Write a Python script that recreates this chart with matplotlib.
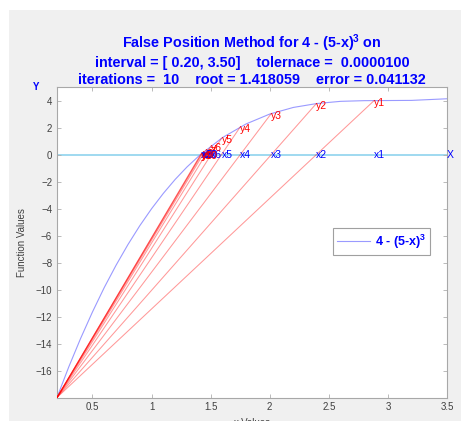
import matplotlib
matplotlib.use("Agg")
import matplotlib.pyplot as plt
from matplotlib.patches import Rectangle

# ---- data ----
curve_x = [0.2, 0.3, 0.4, 0.5, 0.6, 0.7, 0.8, 0.9, 1.0, 1.1, 1.2, 1.3, 1.4,
           1.6, 1.8, 2.0, 2.2, 2.4, 2.6, 2.8, 3.0, 3.2, 3.5]
curve_y = [-17.95, -15.68, -13.58, -11.63, -9.82, -8.17, -6.65, -5.26, -4.00,
           -2.86, -1.83, -0.91, -0.10, 1.26, 2.27, 3.00, 3.49, 3.78, 3.94,
           3.99, 4.00, 4.01, 4.13]
a_point = (0.2, -17.95)
iter_x = [2.8834, 2.3947, 2.0131, 1.7506, 1.5917, 1.5040, 1.4583, 1.4352,
          1.4237, 1.4181]
iter_y = [3.998, 3.778, 3.039, 2.050, 1.207, 0.652, 0.336, 0.168, 0.083, 0.041]
x_labels = [f"x{i}" for i in range(1, 11)]
y_labels = [f"y{i}" for i in range(1, 11)]
x_ticks = [0.5, 1, 1.5, 2, 2.5, 3, 3.5]
y_ticks = [-16, -14, -12, -10, -8, -6, -4, -2, 0, 2, 4]
legend_label = r"4 - (5-x)$^{3}$"
title_lines = [r"False Position Method for 4 - (5-x)$^{3}$ on",
               "interval = [ 0.20, 3.50]    tolernace =  0.0000100",
               "iterations =  10    root = 1.418059    error = 0.041132"]

plt.rcParams['font.family'] = ['Liberation Sans', 'DejaVu Sans']
plt.rcParams['mathtext.fontset'] = 'custom'
plt.rcParams['mathtext.rm'] = 'Liberation Sans:bold'
plt.rcParams['mathtext.default'] = 'rm'

W, H = 461, 421
fig = plt.figure(figsize=(W / 100, H / 100), dpi=100, facecolor='white')
fig.patches.append(Rectangle((9 / W, 0), 1, 1 - 10 / H, transform=fig.transFigure,
                             facecolor='#f0f0f0', edgecolor='none', zorder=-10))

ax = fig.add_axes([57 / W, 1 - 397.5 / H, 390 / W, 310.5 / H])
ax.set_facecolor('white')

blue_c = '#0000ff'
ax.axhline(0, color='#8fd3ee', lw=1.2, zorder=1)
line, = ax.plot(curve_x, curve_y, color='#9a9aff', lw=0.8, label=legend_label, zorder=2)
for xk, yk in zip(iter_x, iter_y):
    ax.plot([a_point[0], xk], [a_point[1], yk], color='#ff0000', alpha=0.4, lw=0.75, zorder=3)

for xk, yk, lx, ly in zip(iter_x, iter_y, x_labels, y_labels):
    ax.text(xk, 0, lx, color=blue_c, fontsize=7.5, ha='left', va='center', zorder=4)
    ax.text(xk, yk - 0.15, ly, color='#ff0000', fontsize=7.5, ha='left', va='center', zorder=4)

ax.text(3.5, 0, "X", color=blue_c, fontsize=7.5, ha='left', va='center', clip_on=False)
ax.text(-0.054, 1.0, "Y", color=blue_c, fontsize=7, fontweight='bold', ha='center',
        va='center', transform=ax.transAxes)

ax.set_xlim(0.2, 3.5)
ax.set_ylim(-17.95, 5.0)
ax.set_xticks(x_ticks)
ax.set_xticklabels(['0.5', '1', '1.5', '2', '2.5', '3', '3.5'])
ax.set_yticks(y_ticks)
ax.tick_params(direction='in', length=3, width=0.6, colors='#b0b0b0', labelcolor='#404040',
               labelsize=7, top=True, right=True)
for s in ax.spines.values():
    s.set_color('#a8a8a8')
    s.set_linewidth(0.8)

ax.set_ylabel("Function Values", fontsize=7, color='#404040', labelpad=6)
ax.set_xlabel("x-Values", fontsize=7, color='#404040', labelpad=4)

fig.text(252 / W, 1 - 59.5 / H, "\n".join(title_lines), color=blue_c, fontsize=10.4,
         fontweight='bold', ha='center', va='center', linespacing=1.2)

leg = ax.legend(handles=[line], loc='upper left', bbox_to_anchor=(0.708, 0.545),
                borderaxespad=0, fancybox=False, edgecolor='#a0a0a0', framealpha=1,
                handlelength=2.6, handletextpad=0.4, borderpad=0.35,
                prop={'size': 9, 'weight': 'bold'})
for t in leg.get_texts():
    t.set_color(blue_c)
leg.get_frame().set_linewidth(0.8)

fig.savefig("out.png", dpi=100, facecolor=fig.get_facecolor())
